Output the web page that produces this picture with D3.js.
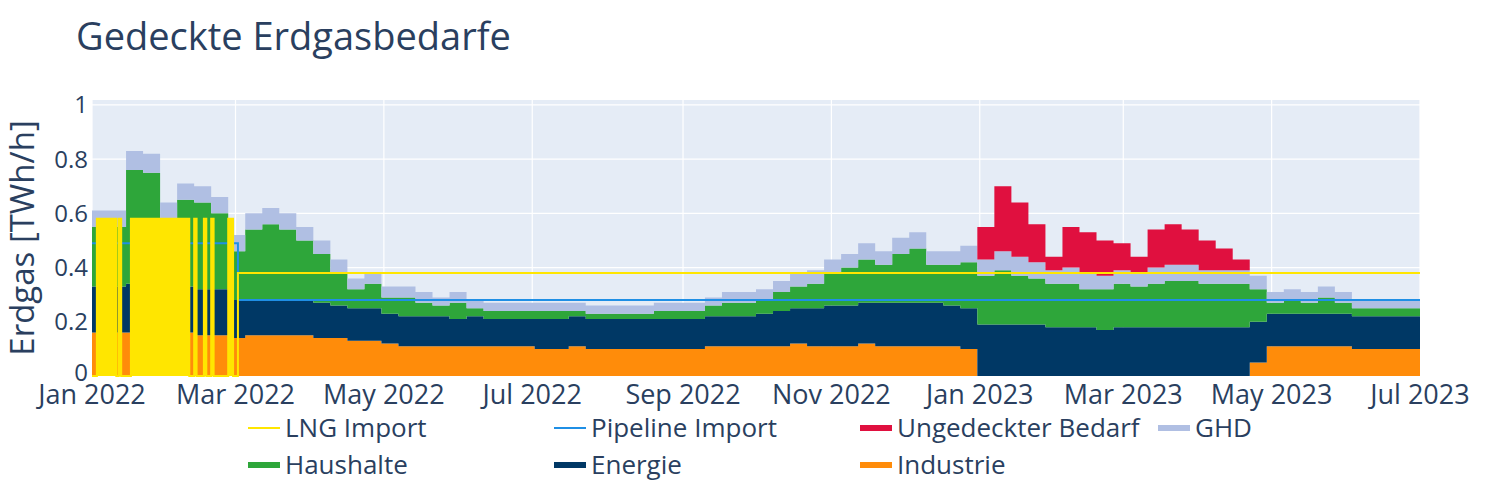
<!DOCTYPE html>
<html>
<head>
<meta charset="utf-8">
<script src="https://cdn.jsdelivr.net/npm/d3@7"></script>
<style>
  body { margin: 0; background: #fff; }
  text { font-family: "Open Sans", "Noto Sans", sans-serif; fill: #2a3f5f; }
</style>
</head>
<body>
<svg id="chart" width="1500" height="500"></svg>
<script>
// Weekly values (TWh/h), weeks starting 2022-01-01, last point 2023-07-01
const weekStart = '2022-01-01';
const industrie = [
  .16,.16,.16,.17,.16,.16,.15,.15,
  .14,.15,.15,.15,.15,.14,.14,.13,.13,
  .12,.11,.11,.11,.11,.11,.11,.11,.11,
  .10,.10,.11,.10,.10,.10,.10,.10,.10,.10,.11,.11,.11,
  .11,.11,.12,.11,.11,.11,.12,.11,.11,.11,.11,.11,.10,
  0,0,0,0,0,0,0,0,0,0,0,0,0,0,0,0,
  .05,.11,.11,.11,.11,.11,.10,.10,.10,.10,.10
];
const energie = [
  .17,.17,.18,.18,.17,.17,.17,.17,
  .14,.13,.13,.13,.13,.13,.12,.12,.12,
  .11,.11,.11,.11,.10,.11,.10,.10,.10,
  .11,.11,.11,.11,.11,.11,.11,.11,.11,.11,.11,.11,.11,
  .12,.13,.13,.14,.15,.15,.15,.16,.16,.16,.16,.15,.15,
  .19,.19,.19,.19,.18,.18,.18,.17,.18,.18,.18,.18,.18,.18,.18,.18,
  .15,.12,.12,.12,.12,.12,.12,.12,.12,.12,.12
];
const haushalte = [
  .22,.22,.42,.40,.25,.32,.32,.28,
  .18,.26,.28,.26,.22,.18,.12,.07,.09,
  .06,.07,.05,.04,.06,.03,.03,.03,.03,
  .03,.03,.02,.02,.02,.02,.02,.03,.03,.03,.04,.05,.05,
  .05,.07,.08,.09,.12,.14,.16,.14,.18,.20,.14,.15,.17,
  .18,.20,.18,.17,.16,.16,.14,.15,.16,.15,.16,.17,.17,.16,.16,.16,
  .12,.04,.05,.04,.06,.04,.03,.03,.03,.03,.04
];
const ghd = [
  .06,.06,.07,.07,.06,.06,.06,.06,
  .06,.06,.06,.06,.05,.05,.05,.04,.04,
  .04,.04,.04,.03,.04,.03,.03,.03,.03,
  .03,.03,.03,.03,.03,.03,.03,.03,.03,.03,.03,.04,.04,
  .04,.04,.05,.05,.05,.05,.06,.05,.06,.06,.05,.05,.06,
  .06,.07,.07,.06,.05,.06,.06,.05,.05,.05,.06,.06,.06,.05,.05,.05,
  .05,.04,.04,.04,.04,.04,.03,.03,.03,.03,.04
];
const ungedeckt = [
  0,0,0,0,0,0,0,0, 0,0,0,0,0,0,0,0,0, 0,0,0,0,0,0,0,0,0,
  0,0,0,0,0,0,0,0,0,0,0,0,0, 0,0,0,0,0,0,0,0,0,0,0,0,0,
  .12,.24,.20,.14,.05,.15,.15,.13,.10,.06,.14,.15,.13,.11,.08,.04,
  0,0,0,0,0,0,0,0,0,0,0
];
// Import lines (step after)
const lngDates = ['2022-01-01','2022-01-03','2022-01-11','2022-01-12','2022-01-13','2022-01-17',
  '2022-02-10','2022-02-12','2022-02-13','2022-02-16','2022-02-17','2022-02-19','2022-02-20',
  '2022-02-26','2022-02-28','2022-03-02','2023-07-01'];
const lngValues = [0.0,0.58,0.0,0.58,0.0,0.58,0.0,0.58,0.0,0.58,0.0,0.58,0.0,0.58,0.0,0.38,0.38];
const pipeDates = ['2022-01-01','2022-03-02','2023-07-01'];
const pipeValues = [0.49,0.28,0.28];
const yTicks = [0, 0.2, 0.4, 0.6, 0.8, 1];

const series = [
  { name: 'Industrie', values: industrie, color: '#ff8c0a' },
  { name: 'Energie', values: energie, color: '#003865' },
  { name: 'Haushalte', values: haushalte, color: '#2ea63a' },
  { name: 'GHD', values: ghd, color: '#b0bfe3' },
  { name: 'Ungedeckter Bedarf', values: ungedeckt, color: '#e0103f' }
];

const svg = d3.select('#chart');
const margin = { left: 92, right: 80, top: 100, bottom: 124 };
const W = 1500, H = 500;

const parse = d3.timeParse('%Y-%m-%d');
const t0 = parse(weekStart);
const dates = industrie.map((_, i) => d3.timeDay.offset(t0, 7 * i));

const x = d3.scaleTime()
  .domain([parse('2022-01-01'), parse('2023-07-01')])
  .range([margin.left, W - margin.right]);
const y = d3.scaleLinear().domain([0, 1.018]).range([H - margin.bottom, margin.top]);

svg.append('rect')
  .attr('x', margin.left).attr('y', margin.top)
  .attr('width', W - margin.left - margin.right)
  .attr('height', H - margin.top - margin.bottom)
  .attr('fill', '#e5ecf6');

// gridlines
const xTicks = d3.timeMonth.every(2).range(parse('2022-01-01'), parse('2023-07-02'));
svg.append('g').selectAll('line').data(xTicks).enter().append('line')
  .attr('x1', d => x(d)).attr('x2', d => x(d))
  .attr('y1', margin.top).attr('y2', H - margin.bottom)
  .attr('stroke', '#fff').attr('stroke-width', 1.2);
svg.append('g').selectAll('line').data(yTicks).enter().append('line')
  .attr('x1', margin.left).attr('x2', W - margin.right)
  .attr('y1', d => y(d)).attr('y2', d => y(d))
  .attr('stroke', '#fff').attr('stroke-width', 1.2);

// stacked areas
const table = dates.map((d, i) => {
  const row = { date: d };
  series.forEach(s => { row[s.name] = s.values[i]; });
  return row;
});
const stack = d3.stack().keys(series.map(s => s.name));
const layers = stack(table);
const area = d3.area()
  .x(d => x(d.data.date)).y0(d => y(d[0])).y1(d => y(d[1]))
  .curve(d3.curveStepAfter);
svg.append('g').selectAll('path').data(layers).enter().append('path')
  .attr('d', area)
  .attr('fill', (d, i) => series[i].color);

// import lines
const lng = lngDates.map((d, i) => ({ date: parse(d), v: lngValues[i] }));
const pipe = pipeDates.map((d, i) => ({ date: parse(d), v: pipeValues[i] }));
const line = d3.line().x(d => x(d.date)).y(d => y(d.v)).curve(d3.curveStepAfter);
const lngArea = d3.area().x(d => x(d.date)).y0(y(0)).y1(d => y(d.v)).curve(d3.curveStepAfter);

svg.append('path').datum(pipe).attr('d', line)
  .attr('fill', 'none').attr('stroke', '#1f8fe5').attr('stroke-width', 2);
svg.append('path').datum(lng.filter(d => d.date <= parse('2022-03-02')))
  .attr('d', lngArea).attr('fill', '#ffe600');
svg.append('path').datum(lng).attr('d', line)
  .attr('fill', 'none').attr('stroke', '#ffe600').attr('stroke-width', 2);

// axes labels
svg.append('g').selectAll('text').data(yTicks).enter().append('text')
  .attr('x', margin.left - 4).attr('y', d => y(d) - (d === 0 ? 3 : 0)).attr('dy', '0.35em')
  .attr('text-anchor', 'end').attr('font-size', 24)
  .text(d => d3.format('~g')(d));
const fmt = d3.timeFormat('%b %Y');
svg.append('g').selectAll('text').data(xTicks).enter().append('text')
  .attr('x', d => x(d)).attr('y', H - margin.bottom + 28)
  .attr('text-anchor', 'middle').attr('font-size', 27)
  .text(d => fmt(d));

svg.append('text')
  .attr('transform', `translate(34,${(margin.top + H - margin.bottom) / 2}) rotate(-90)`)
  .attr('text-anchor', 'middle').attr('font-size', 33)
  .text('Erdgas [TWh/h]');

svg.append('text').attr('x', 76).attr('y', 50).attr('font-size', 38)
  .text('Gedeckte Erdgasbedarfe');

// legend
const legendItems = [
  { name: 'LNG Import', color: '#ffe600', w: 2 },
  { name: 'Pipeline Import', color: '#1f8fe5', w: 2 },
  { name: 'Ungedeckter Bedarf', color: '#e0103f', w: 6 },
  { name: 'GHD', color: '#b0bfe3', w: 6 },
  { name: 'Haushalte', color: '#2ea63a', w: 6 },
  { name: 'Energie', color: '#003865', w: 6 },
  { name: 'Industrie', color: '#ff8c0a', w: 6 }
];
const colX = [248, 554, 860, 1158];
const lg = svg.append('g').selectAll('g').data(legendItems).enter().append('g')
  .attr('transform', (d, i) => `translate(${colX[i % 4]},${428 + Math.floor(i / 4) * 37})`);
lg.append('line').attr('x1', 0).attr('x2', 32).attr('y1', 0).attr('y2', 0)
  .attr('stroke', d => d.color).attr('stroke-width', d => d.w);
lg.append('text').attr('x', 37).attr('dy', '0.35em').attr('font-size', 26)
  .text(d => d.name);
</script>
</body>
</html>
